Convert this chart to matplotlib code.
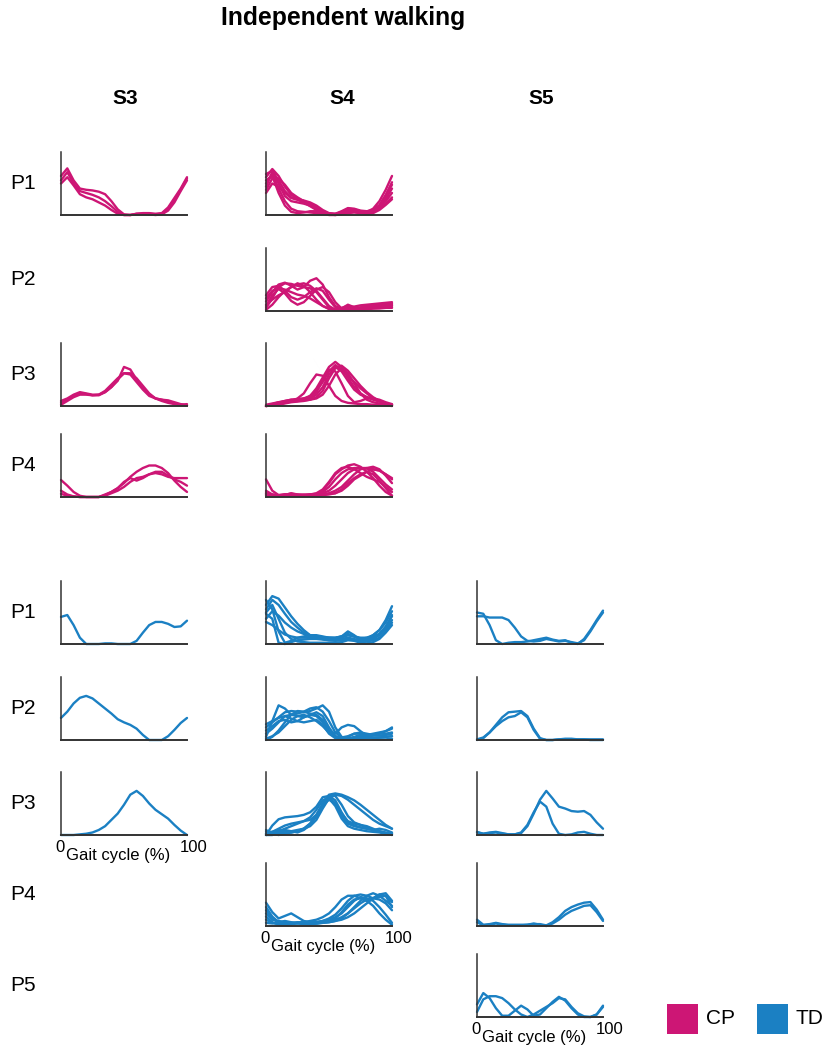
import numpy as np
import matplotlib
matplotlib.use("Agg")
import matplotlib.pyplot as plt
from matplotlib.patches import Rectangle

plt.rcParams['font.family'] = ['Liberation Sans', 'DejaVu Sans']

# gait cycle sampling (%)
gait = list(range(0, 101, 5))

cp_color = '#cd1675'
td_color = '#1b80c3'

columns = ['S3', 'S4', 'S5']
cp_rows = ['P1', 'P2', 'P3', 'P4']
td_rows = ['P1', 'P2', 'P3', 'P4', 'P5']

# ---- CP curves (normalised activation, fraction of axis height) ----
cp_s3_p1 = [
    [0.62, 0.74, 0.55, 0.42, 0.40, 0.39, 0.37, 0.33, 0.22, 0.09, 0.01, 0.00, 0.02, 0.03, 0.03, 0.02, 0.03, 0.12, 0.27, 0.42, 0.60],
    [0.55, 0.68, 0.50, 0.38, 0.35, 0.32, 0.28, 0.22, 0.14, 0.05, 0.00, 0.00, 0.02, 0.02, 0.02, 0.01, 0.02, 0.10, 0.24, 0.40, 0.58],
    [0.50, 0.60, 0.47, 0.33, 0.28, 0.25, 0.20, 0.15, 0.08, 0.02, 0.00, 0.00, 0.01, 0.02, 0.01, 0.00, 0.01, 0.07, 0.20, 0.38, 0.55],
]
cp_s3_p3 = [
    [0.05, 0.10, 0.16, 0.20, 0.19, 0.17, 0.17, 0.22, 0.30, 0.40, 0.62, 0.58, 0.42, 0.28, 0.18, 0.12, 0.10, 0.09, 0.06, 0.03, 0.01],
    [0.02, 0.08, 0.14, 0.18, 0.18, 0.17, 0.18, 0.24, 0.34, 0.44, 0.52, 0.50, 0.38, 0.26, 0.16, 0.12, 0.10, 0.07, 0.04, 0.02, 0.01],
    [0.08, 0.12, 0.18, 0.22, 0.20, 0.18, 0.18, 0.22, 0.30, 0.42, 0.52, 0.52, 0.44, 0.32, 0.20, 0.12, 0.08, 0.05, 0.03, 0.02, 0.03],
]
cp_s3_p4 = [
    [0.05, 0.02, 0.01, 0.00, 0.00, 0.00, 0.00, 0.03, 0.08, 0.14, 0.22, 0.32, 0.40, 0.46, 0.50, 0.50, 0.46, 0.38, 0.26, 0.16, 0.08],
    [0.27, 0.18, 0.08, 0.02, 0.00, 0.00, 0.00, 0.02, 0.06, 0.10, 0.16, 0.24, 0.30, 0.32, 0.36, 0.38, 0.36, 0.32, 0.30, 0.30, 0.30],
    [0.10, 0.04, 0.01, 0.00, 0.00, 0.00, 0.00, 0.04, 0.08, 0.14, 0.24, 0.30, 0.26, 0.30, 0.36, 0.40, 0.40, 0.34, 0.28, 0.24, 0.18],
]
cp_s4_p1 = [
    [0.60, 0.73, 0.62, 0.45, 0.32, 0.26, 0.22, 0.18, 0.12, 0.06, 0.02, 0.01, 0.05, 0.10, 0.09, 0.06, 0.05, 0.10, 0.22, 0.40, 0.62],
    [0.65, 0.70, 0.55, 0.38, 0.28, 0.25, 0.23, 0.20, 0.15, 0.08, 0.03, 0.02, 0.06, 0.11, 0.10, 0.07, 0.06, 0.08, 0.16, 0.32, 0.52],
    [0.45, 0.68, 0.50, 0.30, 0.22, 0.20, 0.18, 0.15, 0.10, 0.05, 0.02, 0.02, 0.04, 0.08, 0.08, 0.06, 0.04, 0.06, 0.13, 0.25, 0.42],
    [0.55, 0.62, 0.35, 0.15, 0.05, 0.03, 0.04, 0.06, 0.06, 0.04, 0.02, 0.01, 0.03, 0.06, 0.07, 0.05, 0.03, 0.05, 0.12, 0.22, 0.35],
    [0.40, 0.58, 0.58, 0.48, 0.35, 0.28, 0.22, 0.16, 0.10, 0.05, 0.01, 0.00, 0.02, 0.05, 0.05, 0.04, 0.03, 0.04, 0.10, 0.18, 0.28],
    [0.50, 0.66, 0.42, 0.22, 0.10, 0.06, 0.05, 0.04, 0.03, 0.02, 0.01, 0.01, 0.02, 0.04, 0.05, 0.04, 0.03, 0.06, 0.14, 0.30, 0.48],
    [0.35, 0.50, 0.45, 0.35, 0.27, 0.24, 0.20, 0.14, 0.08, 0.03, 0.00, 0.00, 0.01, 0.03, 0.04, 0.03, 0.02, 0.03, 0.08, 0.16, 0.25],
]
cp_s4_p2 = [
    [0.05, 0.20, 0.38, 0.44, 0.43, 0.40, 0.38, 0.36, 0.30, 0.18, 0.06, 0.02, 0.03, 0.06, 0.07, 0.09, 0.10, 0.11, 0.12, 0.13, 0.14],
    [0.15, 0.30, 0.42, 0.45, 0.40, 0.34, 0.38, 0.48, 0.52, 0.42, 0.22, 0.08, 0.03, 0.02, 0.04, 0.06, 0.08, 0.09, 0.10, 0.11, 0.12],
    [0.02, 0.10, 0.22, 0.32, 0.38, 0.42, 0.44, 0.40, 0.32, 0.20, 0.08, 0.02, 0.04, 0.10, 0.06, 0.02, 0.03, 0.04, 0.05, 0.05, 0.06],
    [0.25, 0.38, 0.40, 0.32, 0.22, 0.18, 0.22, 0.30, 0.36, 0.32, 0.18, 0.06, 0.02, 0.01, 0.02, 0.03, 0.03, 0.04, 0.04, 0.05, 0.05],
    [0.10, 0.18, 0.25, 0.30, 0.38, 0.44, 0.40, 0.30, 0.18, 0.08, 0.03, 0.02, 0.05, 0.08, 0.05, 0.03, 0.06, 0.08, 0.09, 0.09, 0.10],
    [0.08, 0.25, 0.35, 0.28, 0.16, 0.10, 0.14, 0.24, 0.34, 0.38, 0.30, 0.14, 0.04, 0.02, 0.03, 0.04, 0.05, 0.06, 0.07, 0.08, 0.09],
    [0.20, 0.32, 0.36, 0.34, 0.30, 0.26, 0.24, 0.20, 0.14, 0.08, 0.04, 0.02, 0.02, 0.03, 0.02, 0.02, 0.04, 0.05, 0.06, 0.07, 0.08],
]
cp_s4_p3 = [
    [0.00, 0.02, 0.04, 0.06, 0.08, 0.12, 0.20, 0.36, 0.50, 0.48, 0.32, 0.16, 0.08, 0.05, 0.04, 0.03, 0.03, 0.02, 0.02, 0.01, 0.00],
    [0.00, 0.03, 0.06, 0.07, 0.08, 0.08, 0.10, 0.16, 0.28, 0.45, 0.62, 0.70, 0.62, 0.45, 0.30, 0.20, 0.14, 0.10, 0.07, 0.04, 0.02],
    [0.00, 0.02, 0.05, 0.08, 0.10, 0.10, 0.12, 0.16, 0.24, 0.38, 0.55, 0.65, 0.58, 0.48, 0.38, 0.28, 0.20, 0.12, 0.08, 0.04, 0.02],
    [0.00, 0.01, 0.02, 0.04, 0.06, 0.07, 0.08, 0.10, 0.14, 0.24, 0.44, 0.60, 0.64, 0.56, 0.44, 0.32, 0.22, 0.14, 0.08, 0.04, 0.01],
    [0.02, 0.04, 0.06, 0.08, 0.10, 0.11, 0.12, 0.14, 0.22, 0.40, 0.58, 0.55, 0.36, 0.16, 0.06, 0.08, 0.12, 0.12, 0.08, 0.04, 0.02],
    [0.00, 0.02, 0.04, 0.06, 0.08, 0.10, 0.11, 0.12, 0.18, 0.30, 0.50, 0.62, 0.55, 0.40, 0.26, 0.18, 0.14, 0.12, 0.10, 0.06, 0.03],
    [0.00, 0.01, 0.03, 0.05, 0.07, 0.08, 0.09, 0.10, 0.12, 0.18, 0.32, 0.50, 0.60, 0.52, 0.36, 0.20, 0.10, 0.06, 0.04, 0.02, 0.01],
]
cp_s4_p4 = [
    [0.28, 0.10, 0.03, 0.04, 0.05, 0.03, 0.03, 0.04, 0.04, 0.10, 0.22, 0.36, 0.44, 0.50, 0.52, 0.48, 0.40, 0.30, 0.18, 0.08, 0.02],
    [0.05, 0.04, 0.02, 0.03, 0.06, 0.04, 0.03, 0.04, 0.05, 0.08, 0.16, 0.28, 0.38, 0.44, 0.46, 0.46, 0.45, 0.44, 0.42, 0.36, 0.30],
    [0.08, 0.03, 0.02, 0.04, 0.04, 0.03, 0.04, 0.03, 0.04, 0.06, 0.10, 0.18, 0.28, 0.38, 0.44, 0.46, 0.46, 0.48, 0.44, 0.34, 0.22],
    [0.04, 0.02, 0.02, 0.03, 0.04, 0.03, 0.03, 0.02, 0.03, 0.04, 0.06, 0.10, 0.16, 0.26, 0.36, 0.44, 0.46, 0.40, 0.30, 0.20, 0.12],
    [0.10, 0.04, 0.03, 0.04, 0.05, 0.04, 0.03, 0.04, 0.06, 0.12, 0.24, 0.38, 0.46, 0.48, 0.44, 0.38, 0.32, 0.28, 0.24, 0.16, 0.08],
    [0.06, 0.02, 0.02, 0.03, 0.03, 0.02, 0.02, 0.03, 0.03, 0.04, 0.05, 0.06, 0.10, 0.18, 0.28, 0.34, 0.40, 0.44, 0.42, 0.36, 0.28],
    [0.02, 0.01, 0.01, 0.02, 0.02, 0.02, 0.02, 0.02, 0.02, 0.03, 0.04, 0.06, 0.12, 0.22, 0.30, 0.36, 0.40, 0.36, 0.26, 0.14, 0.02],
]

# ---- TD curves ----
td_s3_p1 = [
    [0.43, 0.46, 0.30, 0.10, 0.00, 0.00, 0.00, 0.01, 0.01, 0.00, 0.00, 0.00, 0.05, 0.18, 0.30, 0.35, 0.35, 0.32, 0.27, 0.28, 0.37],
]
td_s3_p2 = [
    [0.35, 0.45, 0.58, 0.67, 0.70, 0.66, 0.58, 0.50, 0.42, 0.33, 0.28, 0.24, 0.18, 0.08, 0.00, 0.00, 0.00, 0.06, 0.16, 0.27, 0.35],
]
td_s3_p3 = [
    [0.00, 0.00, 0.00, 0.01, 0.02, 0.04, 0.08, 0.14, 0.24, 0.34, 0.48, 0.64, 0.70, 0.62, 0.50, 0.40, 0.33, 0.26, 0.16, 0.07, 0.00],
]
td_s4_p1 = [
    [0.62, 0.76, 0.72, 0.58, 0.44, 0.32, 0.22, 0.14, 0.10, 0.08, 0.08, 0.09, 0.12, 0.20, 0.14, 0.06, 0.08, 0.14, 0.22, 0.38, 0.60],
    [0.55, 0.70, 0.62, 0.48, 0.35, 0.26, 0.18, 0.14, 0.12, 0.11, 0.10, 0.10, 0.12, 0.16, 0.12, 0.08, 0.10, 0.14, 0.22, 0.34, 0.52],
    [0.48, 0.40, 0.02, 0.00, 0.03, 0.06, 0.07, 0.08, 0.08, 0.07, 0.06, 0.06, 0.08, 0.10, 0.08, 0.05, 0.06, 0.10, 0.16, 0.28, 0.44],
    [0.70, 0.55, 0.20, 0.02, 0.05, 0.10, 0.12, 0.14, 0.14, 0.12, 0.10, 0.09, 0.10, 0.14, 0.12, 0.08, 0.06, 0.08, 0.14, 0.24, 0.38],
    [0.40, 0.52, 0.45, 0.34, 0.26, 0.20, 0.16, 0.12, 0.10, 0.08, 0.06, 0.05, 0.06, 0.08, 0.06, 0.04, 0.04, 0.06, 0.10, 0.20, 0.34],
    [0.35, 0.30, 0.22, 0.15, 0.12, 0.10, 0.10, 0.10, 0.10, 0.10, 0.10, 0.10, 0.12, 0.14, 0.12, 0.10, 0.10, 0.12, 0.16, 0.26, 0.46],
    [0.50, 0.62, 0.40, 0.18, 0.08, 0.04, 0.03, 0.02, 0.02, 0.02, 0.02, 0.02, 0.03, 0.06, 0.05, 0.02, 0.01, 0.03, 0.08, 0.18, 0.30],
]
td_s4_p2 = [
    [0.05, 0.30, 0.55, 0.50, 0.40, 0.42, 0.45, 0.50, 0.52, 0.45, 0.30, 0.12, 0.04, 0.02, 0.04, 0.06, 0.08, 0.10, 0.12, 0.14, 0.18],
    [0.20, 0.28, 0.36, 0.44, 0.46, 0.45, 0.44, 0.46, 0.50, 0.55, 0.45, 0.20, 0.05, 0.02, 0.05, 0.08, 0.08, 0.07, 0.07, 0.08, 0.10],
    [0.00, 0.05, 0.15, 0.28, 0.40, 0.46, 0.45, 0.42, 0.40, 0.32, 0.15, 0.10, 0.20, 0.24, 0.22, 0.14, 0.06, 0.04, 0.04, 0.05, 0.06],
    [0.10, 0.18, 0.28, 0.38, 0.40, 0.38, 0.36, 0.40, 0.44, 0.38, 0.20, 0.06, 0.02, 0.05, 0.10, 0.12, 0.10, 0.08, 0.10, 0.14, 0.20],
    [0.15, 0.22, 0.30, 0.32, 0.28, 0.30, 0.36, 0.40, 0.38, 0.28, 0.12, 0.04, 0.02, 0.02, 0.03, 0.04, 0.05, 0.08, 0.10, 0.10, 0.12],
    [0.02, 0.06, 0.12, 0.22, 0.32, 0.38, 0.40, 0.36, 0.30, 0.22, 0.12, 0.06, 0.04, 0.06, 0.10, 0.10, 0.06, 0.02, 0.01, 0.01, 0.02],
    [0.25, 0.30, 0.35, 0.38, 0.34, 0.30, 0.28, 0.30, 0.32, 0.24, 0.10, 0.03, 0.01, 0.01, 0.02, 0.02, 0.03, 0.03, 0.04, 0.05, 0.06],
]
td_s4_p3 = [
    [0.00, 0.15, 0.25, 0.28, 0.29, 0.30, 0.32, 0.36, 0.45, 0.60, 0.62, 0.55, 0.36, 0.20, 0.15, 0.12, 0.10, 0.08, 0.06, 0.04, 0.02],
    [0.05, 0.05, 0.10, 0.15, 0.18, 0.20, 0.22, 0.24, 0.32, 0.50, 0.64, 0.66, 0.64, 0.60, 0.55, 0.48, 0.40, 0.32, 0.24, 0.16, 0.10],
    [0.02, 0.04, 0.06, 0.10, 0.14, 0.18, 0.22, 0.28, 0.40, 0.55, 0.60, 0.50, 0.30, 0.18, 0.14, 0.12, 0.10, 0.08, 0.05, 0.03, 0.02],
    [0.00, 0.00, 0.04, 0.08, 0.06, 0.04, 0.08, 0.16, 0.30, 0.48, 0.62, 0.62, 0.48, 0.30, 0.20, 0.16, 0.12, 0.08, 0.10, 0.08, 0.04],
    [0.02, 0.05, 0.08, 0.06, 0.04, 0.06, 0.10, 0.18, 0.30, 0.46, 0.58, 0.64, 0.62, 0.56, 0.48, 0.40, 0.32, 0.24, 0.18, 0.14, 0.10],
    [0.00, 0.02, 0.03, 0.04, 0.06, 0.08, 0.10, 0.14, 0.24, 0.42, 0.58, 0.46, 0.26, 0.14, 0.10, 0.08, 0.06, 0.05, 0.04, 0.02, 0.00],
    [0.08, 0.02, 0.00, 0.02, 0.04, 0.06, 0.10, 0.18, 0.32, 0.48, 0.56, 0.50, 0.34, 0.22, 0.18, 0.16, 0.14, 0.10, 0.06, 0.03, 0.01],
]
td_s4_p4 = [
    [0.37, 0.22, 0.12, 0.16, 0.20, 0.14, 0.08, 0.06, 0.06, 0.08, 0.12, 0.18, 0.28, 0.40, 0.48, 0.50, 0.48, 0.44, 0.46, 0.48, 0.30],
    [0.20, 0.10, 0.08, 0.06, 0.05, 0.05, 0.06, 0.08, 0.10, 0.14, 0.20, 0.30, 0.42, 0.48, 0.48, 0.44, 0.40, 0.44, 0.50, 0.52, 0.40],
    [0.30, 0.15, 0.06, 0.04, 0.04, 0.05, 0.06, 0.06, 0.06, 0.08, 0.10, 0.14, 0.20, 0.30, 0.40, 0.46, 0.44, 0.40, 0.30, 0.18, 0.05],
    [0.10, 0.05, 0.03, 0.02, 0.03, 0.05, 0.06, 0.06, 0.06, 0.07, 0.08, 0.10, 0.14, 0.20, 0.28, 0.36, 0.42, 0.44, 0.42, 0.36, 0.25],
    [0.25, 0.12, 0.05, 0.04, 0.05, 0.06, 0.05, 0.04, 0.04, 0.05, 0.06, 0.08, 0.12, 0.20, 0.30, 0.40, 0.48, 0.52, 0.48, 0.40, 0.32],
    [0.15, 0.06, 0.02, 0.02, 0.03, 0.04, 0.04, 0.03, 0.04, 0.06, 0.08, 0.12, 0.22, 0.34, 0.42, 0.44, 0.40, 0.32, 0.20, 0.10, 0.02],
    [0.05, 0.04, 0.06, 0.08, 0.06, 0.04, 0.03, 0.03, 0.04, 0.05, 0.06, 0.08, 0.10, 0.14, 0.20, 0.28, 0.36, 0.44, 0.50, 0.48, 0.38],
]
td_s5_p1 = [
    [0.50, 0.48, 0.30, 0.06, 0.00, 0.02, 0.03, 0.03, 0.04, 0.06, 0.08, 0.10, 0.07, 0.05, 0.06, 0.02, 0.00, 0.08, 0.22, 0.38, 0.53],
    [0.44, 0.44, 0.42, 0.42, 0.42, 0.38, 0.26, 0.12, 0.05, 0.04, 0.05, 0.08, 0.06, 0.04, 0.05, 0.03, 0.01, 0.06, 0.20, 0.36, 0.50],
]
td_s5_p2 = [
    [0.00, 0.03, 0.12, 0.24, 0.36, 0.44, 0.45, 0.46, 0.38, 0.18, 0.03, 0.00, 0.00, 0.01, 0.01, 0.01, 0.01, 0.01, 0.01, 0.01, 0.01],
    [0.01, 0.04, 0.12, 0.22, 0.30, 0.36, 0.38, 0.44, 0.36, 0.16, 0.02, 0.00, 0.00, 0.01, 0.02, 0.02, 0.01, 0.01, 0.00, 0.00, 0.00],
]
td_s5_p3 = [
    [0.05, 0.02, 0.04, 0.05, 0.03, 0.01, 0.01, 0.03, 0.14, 0.34, 0.56, 0.70, 0.58, 0.45, 0.42, 0.38, 0.37, 0.38, 0.32, 0.20, 0.10],
    [0.04, 0.02, 0.03, 0.04, 0.02, 0.01, 0.01, 0.04, 0.16, 0.36, 0.53, 0.45, 0.18, 0.02, 0.00, 0.01, 0.04, 0.05, 0.02, 0.00, 0.00],
]
td_s5_p4 = [
    [0.10, 0.02, 0.03, 0.05, 0.03, 0.02, 0.02, 0.02, 0.02, 0.03, 0.03, 0.01, 0.06, 0.14, 0.24, 0.30, 0.34, 0.37, 0.38, 0.26, 0.10],
    [0.06, 0.01, 0.02, 0.04, 0.02, 0.01, 0.01, 0.01, 0.02, 0.04, 0.02, 0.00, 0.04, 0.10, 0.18, 0.24, 0.28, 0.32, 0.33, 0.22, 0.08],
]
td_s5_p5 = [
    [0.20, 0.38, 0.30, 0.14, 0.02, 0.02, 0.10, 0.18, 0.12, 0.02, 0.04, 0.14, 0.24, 0.32, 0.26, 0.14, 0.04, 0.00, 0.00, 0.04, 0.18],
    [0.08, 0.28, 0.33, 0.33, 0.30, 0.22, 0.12, 0.04, 0.00, 0.04, 0.10, 0.16, 0.22, 0.30, 0.28, 0.16, 0.06, 0.01, 0.00, 0.04, 0.16],
]

# (column, row) -> curves
cp_panels = {
    ('S3', 'P1'): cp_s3_p1, ('S3', 'P3'): cp_s3_p3, ('S3', 'P4'): cp_s3_p4,
    ('S4', 'P1'): cp_s4_p1, ('S4', 'P2'): cp_s4_p2, ('S4', 'P3'): cp_s4_p3, ('S4', 'P4'): cp_s4_p4,
}
td_panels = {
    ('S3', 'P1'): td_s3_p1, ('S3', 'P2'): td_s3_p2, ('S3', 'P3'): td_s3_p3,
    ('S4', 'P1'): td_s4_p1, ('S4', 'P2'): td_s4_p2, ('S4', 'P3'): td_s4_p3, ('S4', 'P4'): td_s4_p4,
    ('S5', 'P1'): td_s5_p1, ('S5', 'P2'): td_s5_p2, ('S5', 'P3'): td_s5_p3, ('S5', 'P4'): td_s5_p4,
    ('S5', 'P5'): td_s5_p5,
}
# panels carrying the gait cycle axis labels
labelled = [('S3', 'P3'), ('S4', 'P4'), ('S5', 'P5')]

W, H = 832, 1046
fig = plt.figure(figsize=(W / 100, H / 100), dpi=100)

col_left = {'S3': 61, 'S4': 266, 'S5': 477}
col_label_x = {'S3': 125, 'S4': 342, 'S5': 541}
cp_top = {'P1': 152, 'P2': 248, 'P3': 343, 'P4': 434}
td_top = {'P1': 581, 'P2': 677, 'P3': 772, 'P4': 863, 'P5': 954}
ax_w, ax_h = 126, 63


def make_axes(left, top):
    ax = fig.add_axes([left / W, 1 - (top + ax_h) / H, ax_w / W, ax_h / H])
    ax.set_xlim(0, 100)
    ax.set_ylim(0, 1)
    for s in ['top', 'right']:
        ax.spines[s].set_visible(False)
    ax.spines['left'].set_color('#333333')
    ax.spines['bottom'].set_color('#333333')
    ax.spines['left'].set_linewidth(1.1)
    ax.spines['bottom'].set_linewidth(1.4)
    ax.set_xticks([])
    ax.set_yticks([])
    ax.patch.set_alpha(0)
    return ax


def draw_group(panels, tops, color, gait_labels):
    for (col, row), curves in panels.items():
        ax = make_axes(col_left[col], tops[row])
        for c in curves:
            ax.plot(gait, c, color=color, lw=1.7, solid_joinstyle='round',
                    solid_capstyle='round', clip_on=False)
        if gait_labels and (col, row) in labelled:
            ax.annotate('0', xy=(0, 0), xycoords='axes fraction', xytext=(-1, -9),
                        textcoords='offset points', ha='center', va='center', fontsize=12)
            ax.annotate('100', xy=(1, 0), xycoords='axes fraction', xytext=(5, -9),
                        textcoords='offset points', ha='center', va='center', fontsize=12)
            ax.annotate('Gait cycle (%)', xy=(0.45, 0), xycoords='axes fraction', xytext=(0, -15),
                        textcoords='offset points', ha='center', va='center', fontsize=12)


draw_group(cp_panels, cp_top, cp_color, False)
draw_group(td_panels, td_top, td_color, True)

# row labels
for row, top in cp_top.items():
    fig.text(10 / W, 1 - (top + ax_h / 2) / H, row, fontsize=15, ha='left', va='center')
for row, top in td_top.items():
    fig.text(10 / W, 1 - (top + ax_h / 2) / H, row, fontsize=15, ha='left', va='center')

# column labels and title
for col in columns:
    fig.text(col_label_x[col] / W, 1 - 98 / H, col, fontsize=15, fontweight='bold',
             ha='center', va='center')
fig.text(343 / W, 1 - 18 / H, 'Independent walking', fontsize=17.8, fontweight='bold',
         ha='center', va='center')

# legend
legend_items = [('CP', cp_color, 667), ('TD', td_color, 757)]
for name, color, x0 in legend_items:
    fig.add_artist(Rectangle((x0 / W, 1 - 1034 / H), 31 / W, 30 / H, transform=fig.transFigure,
                             facecolor=color, edgecolor='none'))
    fig.text((x0 + 39) / W, 1 - 1019 / H, name, fontsize=15, ha='left', va='center')

fig.savefig('out.png', dpi=100)
